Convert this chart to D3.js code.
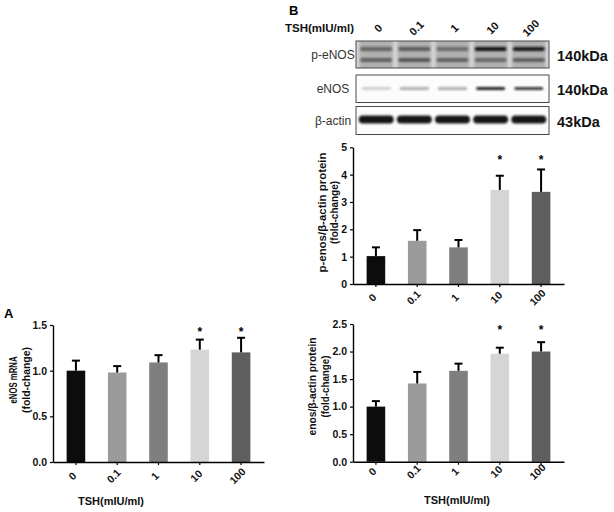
<!DOCTYPE html>
<html lang="en">
  <head>
    <meta charset="UTF-8" />
    <title></title>
    <script src="https://d3js.org/d3.v7.min.js"></script>
    <style>
      body { margin: 0; background: #fff; }
      text { font-family: Arial, 'Liberation Sans', sans-serif; }
    </style>
  </head>
  <body>
    <svg id="figure" width="614" height="512"></svg>
    <script>
      // Doses and bar colours (shared by all three bar charts)
      const doses = ['0', '0.1', '1', '10', '100']
      const barColors = ['#0c0c0c', '#9b9b9b', '#7f7f7f', '#d5d5d5', '#5e5e5e']
      const significant = [false, false, false, true, true]

      // A: eNOS mRNA (fold-change)
      const mrnaMean = [1.0, 0.98, 1.09, 1.23, 1.2]
      const mrnaErr = [0.11, 0.07, 0.08, 0.11, 0.16]
      const mrnaTicks = [0, 0.5, 1.0, 1.5]

      // B: p-eNOS / beta-actin (fold-change)
      const pEnosMean = [1.02, 1.58, 1.34, 3.44, 3.37]
      const pEnosErr = [0.32, 0.39, 0.27, 0.52, 0.82]
      const pEnosTicks = [0, 1, 2, 3, 4, 5]

      // B: eNOS / beta-actin (fold-change)
      const enosMean = [1.0, 1.42, 1.65, 1.96, 2.0]
      const enosErr = [0.1, 0.21, 0.13, 0.11, 0.17]
      const enosTicks = [0, 0.5, 1.0, 1.5, 2.0, 2.5]

      // Western blot band intensities (0 = none, 1 = black)
      const pEnosUpperBand = [0.5, 0.55, 0.45, 0.97, 0.93]
      const pEnosLowerBand = [0.55, 0.65, 0.55, 0.5, 0.6]
      const enosBand = [0.18, 0.35, 0.35, 0.92, 0.82]
      const actinBand = [0.97, 0.97, 0.97, 0.97, 0.97]

      const svg = d3.select('#figure')

      // ---------- bar charts ----------
      function barChart(cfg) {
        const g = svg.append('g')
        const x = d3.scaleBand().domain(doses).range([cfg.x0, cfg.x0 + 211])
          .paddingInner(0.55).paddingOuter(0.33)
        const y = d3.scaleLinear().domain([0, cfg.max]).range([cfg.y0, cfg.y1])

        g.selectAll('rect.bar')
          .data(cfg.means)
          .join('rect')
          .attr('class', 'bar')
          .attr('x', (d, i) => x(doses[i]))
          .attr('width', x.bandwidth())
          .attr('y', d => y(d))
          .attr('height', d => y(0) - y(d))
          .attr('fill', (d, i) => barColors[i])

        // upper error bars only (Prism style)
        const err = g.selectAll('g.err')
          .data(cfg.means)
          .join('g')
          .attr('class', 'err')
          .attr('transform', (d, i) => `translate(${x(doses[i]) + x.bandwidth() / 2},0)`)
          .attr('stroke', '#000')
          .attr('stroke-width', 2)
        err.append('line')
          .attr('y1', d => y(d))
          .attr('y2', (d, i) => y(d + cfg.errs[i]))
        err.append('line')
          .attr('x1', -4).attr('x2', 4)
          .attr('y1', (d, i) => y(d + cfg.errs[i]))
          .attr('y2', (d, i) => y(d + cfg.errs[i]))

        g.selectAll('text.star')
          .data(doses.filter((d, i) => significant[i]))
          .join('text')
          .attr('class', 'star')
          .attr('x', d => x(d) + x.bandwidth() / 2)
          .attr('y', y(cfg.star) + 6)
          .attr('text-anchor', 'middle')
          .attr('font-size', 12)
          .attr('font-weight', 'bold')
          .text('*')

        // axes
        const yAxis = g.append('g')
          .attr('transform', `translate(${cfg.x0},0)`)
          .call(d3.axisLeft(y).tickValues(cfg.ticks).tickFormat(d3.format(cfg.fmt))
            .tickSize(3).tickSizeOuter(0))
        const xAxis = g.append('g')
          .attr('transform', `translate(0,${cfg.y0})`)
          .call(d3.axisBottom(x).tickSize(3).tickSizeOuter(0))
        for (const ax of [yAxis, xAxis]) {
          ax.select('.domain').attr('stroke-width', 1.4)
          ax.selectAll('.tick line').attr('stroke-width', 1.2)
          ax.selectAll('text').attr('font-size', 10.5).attr('font-weight', 'bold')
            .attr('font-family', 'Arial, Liberation Sans, sans-serif').attr('fill', '#111')
        }
        xAxis.selectAll('.tick text')
          .attr('x', 0).attr('y', 0).attr('dy', '0.35em')
          .attr('text-anchor', 'middle')
          .attr('transform', `translate(-3.5,${cfg.labelOffset}) rotate(-45)`)

        // y-axis title, two lines
        cfg.title.forEach((t, i) => {
          g.append('text')
            .attr('transform', `translate(${cfg.titleX[i]},${cfg.titleY}) rotate(-90)`)
            .attr('dy', '0.35em')
            .attr('text-anchor', 'middle')
            .attr('font-size', 10.5)
            .attr('font-weight', 'bold')
            .attr('fill', '#111')
            .attr('textLength', cfg.titleLen[i])
            .attr('lengthAdjust', 'spacingAndGlyphs')
            .text(t)
        })
        if (cfg.xTitle) {
          g.append('text')
            .attr('x', cfg.xTitle[0]).attr('y', cfg.xTitle[1])
            .attr('text-anchor', 'middle')
            .attr('font-size', 11)
            .attr('font-weight', 'bold')
            .attr('fill', '#111')
            .text('TSH(mIU/ml)')
        }
      }

      barChart({
        means: mrnaMean, errs: mrnaErr, ticks: mrnaTicks, fmt: '.1f', max: 1.5,
        x0: 53, y0: 462, y1: 325, star: 1.44, labelOffset: 14,
        title: ['eNOS mRNA', '(fold-change)'], titleX: [13, 26], titleY: 380,
        titleLen: [47, 66], xTitle: [111, 505]
      })
      barChart({
        means: pEnosMean, errs: pEnosErr, ticks: pEnosTicks, fmt: 'd', max: 5,
        x0: 353, y0: 284, y1: 147.3, star: 4.6, labelOffset: 13.5,
        title: ['p-enos/β-actin protein', '(fold-change)'], titleX: [322, 334], titleY: 212.5,
        titleLen: [120, 63]
      })
      barChart({
        means: enosMean, errs: enosErr, ticks: enosTicks, fmt: '.1f', max: 2.5,
        x0: 353, y0: 461.7, y1: 324, star: 2.42, labelOffset: 10,
        title: ['enos/β-actin protein', '(fold-change)'], titleX: [312, 325], titleY: 386.5,
        titleLen: [98, 62], xTitle: [457, 504]
      })

      // ---------- western blot ----------
      const defs = svg.append('defs')
      defs.append('filter').attr('id', 'blur').attr('x', '-20%').attr('y', '-100%')
        .attr('width', '140%').attr('height', '300%')
        .append('feGaussianBlur').attr('stdDeviation', 1.1)
      defs.append('filter').attr('id', 'blur2').attr('x', '-20%').attr('y', '-50%')
        .attr('width', '140%').attr('height', '200%')
        .append('feGaussianBlur').attr('stdDeviation', 1.8)

      const lane = d3.scaleBand().domain(doses).range([356, 549]).padding(0.06)
      const laneMid = d => lane(d) + lane.bandwidth() / 2

      const blots = [
        { name: 'p-eNOS', kDa: '140kDa', top: 41, h: 27, bg: true,
          bands: [{ v: pEnosUpperBand, y: 49, h: 4, w: 32 }, { v: pEnosLowerBand, y: 60, h: 3.5, w: 32 }] },
        { name: 'eNOS', kDa: '140kDa', top: 75, h: 27.5, bg: false,
          bands: [{ v: enosBand, y: 88.5, h: 3, w: 29 }] },
        { name: 'β-actin', kDa: '43kDa', top: 106.5, h: 28, bg: false,
          bands: [{ v: actinBand, y: 119.5, h: 8, w: 35 }] }
      ]

      blots.forEach(b => {
        const g = svg.append('g')
        const clip = 'clip-' + b.top
        defs.append('clipPath').attr('id', clip)
          .append('rect').attr('x', 356).attr('y', b.top).attr('width', 193).attr('height', b.h)
        const inner = g.append('g').attr('clip-path', `url(#${clip})`)
        inner.append('rect').attr('x', 356).attr('y', b.top).attr('width', 193).attr('height', b.h)
          .attr('fill', b.bg ? '#d8d8d8' : '#fcfcfc')
        if (b.bg) {
          inner.selectAll('rect.lane').data(doses).join('rect')
            .attr('x', d => lane(d) + 1).attr('width', lane.bandwidth() - 2)
            .attr('y', b.top - 4).attr('height', b.h + 8)
            .attr('fill', '#b0b0b0').attr('filter', 'url(#blur2)')
        }
        b.bands.forEach(band => {
          inner.selectAll(null).data(band.v).join('rect')
            .attr('x', (d, i) => laneMid(doses[i]) - band.w / 2)
            .attr('width', band.w)
            .attr('y', band.y - band.h / 2)
            .attr('height', band.h)
            .attr('rx', band.h / 2)
            .attr('fill', '#111')
            .attr('fill-opacity', d => d)
            .attr('filter', 'url(#blur)')
        })
        g.append('rect').attr('x', 356).attr('y', b.top).attr('width', 193).attr('height', b.h)
          .attr('fill', 'none').attr('stroke', '#4a4a4a').attr('stroke-width', 1)
        g.append('text').attr('x', 333).attr('y', b.top + b.h / 2).attr('dy', '0.35em')
          .attr('text-anchor', 'middle').attr('font-size', 12).attr('fill', '#333')
          .text(b.name)
        g.append('text').attr('x', 557).attr('y', b.top + b.h / 2 + 1).attr('dy', '0.35em')
          .attr('font-size', 14.5).attr('font-weight', 'bold').attr('fill', '#111')
          .text(b.kDa)
      })

      // dose header above the blot
      svg.append('text').attr('x', 285).attr('y', 32)
        .attr('font-size', 11.5).attr('font-weight', 'bold').attr('fill', '#111')
        .text('TSH(mIU/ml)')
      svg.selectAll('text.dose').data(doses).join('text')
        .attr('class', 'dose')
        .attr('transform', d => `translate(${laneMid(d) + 2},28) rotate(-45)`)
        .attr('dy', '0.35em')
        .attr('text-anchor', 'middle')
        .attr('font-size', 11).attr('font-weight', 'bold').attr('fill', '#111')
        .text(d => d)

      // panel letters
      svg.append('text').attr('x', 289).attr('y', 15)
        .attr('font-size', 13).attr('font-weight', 'bold').text('B')
      svg.append('text').attr('x', 4).attr('y', 318)
        .attr('font-size', 13).attr('font-weight', 'bold').text('A')
    </script>
  </body>
</html>
